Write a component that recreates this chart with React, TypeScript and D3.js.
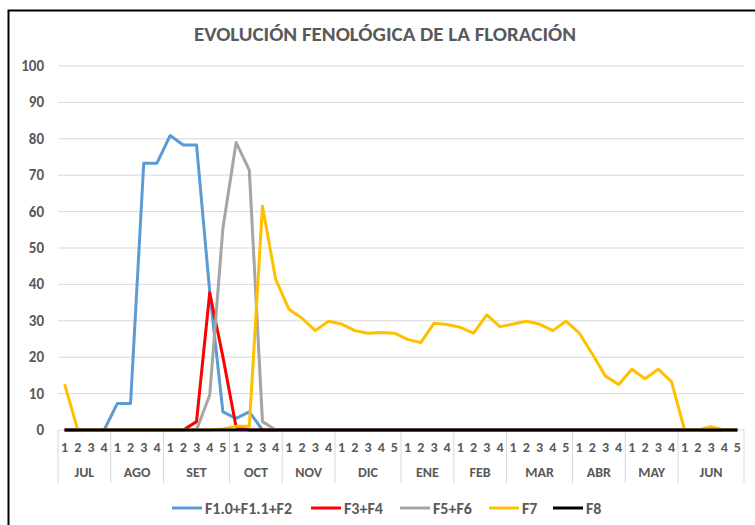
import { useEffect, useRef } from "react";
import * as d3 from "d3";

// months and number of weeks in each
const months = ["JUL", "AGO", "SET", "OCT", "NOV", "DIC", "ENE", "FEB", "MAR", "ABR", "MAY", "JUN"];
const weeksPerMonth = [4, 4, 5, 4, 4, 5, 4, 4, 5, 4, 4, 5];

const yTicks = [0, 10, 20, 30, 40, 50, 60, 70, 80, 90, 100];

// values, one per week (52)
const f1 = [0, 0, 0, 0, 7.3, 7.3, 73.3, 73.3, 80.9, 78.3, 78.3, 38, 5, 3.2, 5, 0,
  0, 0, 0, 0, 0, 0, 0, 0, 0, 0, 0, 0, 0, 0, 0, 0, 0, 0, 0, 0, 0, 0, 0, 0, 0, 0, 0, 0, 0, 0, 0, 0, 0, 0, 0, 0];
const f3 = [0, 0, 0, 0, 0, 0, 0, 0, 0, 0, 2.3, 37.7, 20.1, 0.8, 0, 0,
  0, 0, 0, 0, 0, 0, 0, 0, 0, 0, 0, 0, 0, 0, 0, 0, 0, 0, 0, 0, 0, 0, 0, 0, 0, 0, 0, 0, 0, 0, 0, 0, 0, 0, 0, 0];
const f5 = [0, 0, 0, 0, 0, 0, 0, 0, 0, 0, 0, 9.6, 55.4, 79, 71.4, 2.3,
  0, 0, 0, 0, 0, 0, 0, 0, 0, 0, 0, 0, 0, 0, 0, 0, 0, 0, 0, 0, 0, 0, 0, 0, 0, 0, 0, 0, 0, 0, 0, 0, 0, 0, 0, 0];
const f7 = [12.6, 0, 0, 0, 0, 0, 0, 0, 0, 0, 0, 0, 0.3, 1, 1, 61.5,
  41.4, 33.2, 30.7, 27.3, 29.9, 29.1, 27.3, 26.6, 26.8, 26.6, 24.9, 24, 29.3, 29, 28.2, 26.6,
  31.6, 28.4, 29.1, 29.9, 29.1, 27.3, 29.9, 26.7, 20.9, 14.8, 12.5, 16.7, 14.1, 16.7, 13.3, 0,
  0, 0.9, 0, 0];
const f8 = [0, 0, 0, 0, 0, 0, 0, 0, 0, 0, 0, 0, 0, 0, 0, 0, 0, 0, 0, 0, 0, 0, 0, 0, 0, 0,
  0, 0, 0, 0, 0, 0, 0, 0, 0, 0, 0, 0, 0, 0, 0, 0, 0, 0, 0, 0, 0, 0, 0, 0, 0, 0];

const seriesNames = ["F1.0+F1.1+F2", "F3+F4", "F5+F6", "F7", "F8"];
const seriesColors = ["#5b9bd5", "#ff0000", "#a5a5a5", "#ffc000", "#000000"];

const FONT = "Carlito, 'Liberation Sans Narrow', 'Open Sans', sans-serif";
const GREY = "#595959";

export default function App() {
  const svgRef = useRef<SVGSVGElement>(null);

  useEffect(() => {
    const W = 755, H = 525;
    const left = 58, right = 744, top = 66, bottom = 430;
    const svg = d3.select(svgRef.current).attr("width", W).attr("height", H);
    svg.selectAll("*").remove();

    // week list
    const weeks: { m: number; w: number }[] = [];
    weeksPerMonth.forEach((n, m) => {
      for (let w = 1; w <= n; w++) weeks.push({ m, w });
    });

    const x = d3.scaleBand<number>()
      .domain(d3.range(weeks.length))
      .range([left, right]);
    const y = d3.scaleLinear().domain([0, 100]).range([bottom, top]);

    svg.append("rect").attr("width", W).attr("height", H).attr("fill", "#fff");
    svg.append("rect")
      .attr("x", 8.5).attr("y", 10.5).attr("width", 800).attr("height", 600)
      .attr("fill", "none").attr("stroke", "#000").attr("stroke-width", 2);

    svg.append("text")
      .attr("x", 385).attr("y", 41)
      .attr("text-anchor", "middle")
      .attr("font-family", FONT).attr("font-weight", "bold")
      .attr("font-size", 21).attr("fill", GREY)
      .text("EVOLUCIÓN FENOLÓGICA DE LA FLORACIÓN");

    // gridlines
    svg.append("g").selectAll("line")
      .data(yTicks)
      .enter().append("line")
      .attr("x1", left).attr("x2", right)
      .attr("y1", d => y(d)).attr("y2", d => y(d))
      .attr("stroke", "#d9d9d9").attr("stroke-width", 1);

    svg.append("g").selectAll("text")
      .data(yTicks)
      .enter().append("text")
      .attr("x", 44).attr("y", d => y(d) + 5)
      .attr("text-anchor", "end")
      .attr("font-family", FONT).attr("font-weight", "bold")
      .attr("font-size", 15).attr("fill", GREY)
      .text(d => d);

    // category axis: month separators
    const starts: number[] = [];
    let acc = 0;
    weeksPerMonth.forEach(n => { starts.push(acc); acc += n; });
    const bw = x.bandwidth();
    const seps = starts.map(s => x(s)!).concat([right]);
    svg.append("g").selectAll("line")
      .data(seps)
      .enter().append("line")
      .attr("x1", d => d).attr("x2", d => d)
      .attr("y1", bottom).attr("y2", 483)
      .attr("stroke", "#d9d9d9").attr("stroke-width", 1);

    svg.append("g").selectAll("text")
      .data(weeks)
      .enter().append("text")
      .attr("x", (d, i) => x(i)! + bw / 2)
      .attr("y", 452)
      .attr("text-anchor", "middle")
      .attr("font-family", FONT).attr("font-weight", "bold")
      .attr("font-size", 14).attr("fill", GREY)
      .text(d => d.w);

    svg.append("g").selectAll("text")
      .data(months)
      .enter().append("text")
      .attr("x", (d, i) => x(starts[i])! + (weeksPerMonth[i] * bw) / 2)
      .attr("y", 477)
      .attr("text-anchor", "middle")
      .attr("font-family", FONT).attr("font-weight", "bold")
      .attr("font-size", 14).attr("fill", GREY)
      .text(d => d);

    // series
    const allSeries = [f1, f3, f5, f7, f8];
    const line = d3.line<number>()
      .x((d, i) => x(i)! + bw / 2)
      .y(d => y(d));
    allSeries.forEach((s, k) => {
      svg.append("path")
        .datum(s)
        .attr("d", line)
        .attr("fill", "none")
        .attr("stroke", seriesColors[k])
        .attr("stroke-width", 3)
        .attr("stroke-linejoin", "round");
    });

    // legend
    const legX = [172, 311, 400, 489, 553];
    const lg = svg.append("g");
    seriesNames.forEach((name, k) => {
      lg.append("line")
        .attr("x1", legX[k]).attr("x2", legX[k] + 30)
        .attr("y1", 508).attr("y2", 508)
        .attr("stroke", seriesColors[k]).attr("stroke-width", 3);
      lg.append("text")
        .attr("x", legX[k] + 33).attr("y", 514)
        .attr("font-family", FONT).attr("font-weight", "bold")
        .attr("font-size", 16).attr("fill", GREY)
        .text(name);
    });
  }, []);

  return (
    <div>
      <svg ref={svgRef} style={{ position: "absolute", left: 0, top: 0 }} />
    </div>
  );
}
